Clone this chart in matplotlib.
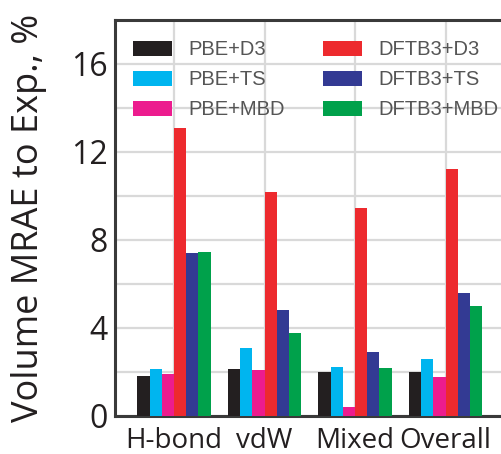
import matplotlib

matplotlib.use("Agg")
import matplotlib.pyplot as plt
import numpy as np

# Volume MRAE (%) per method and interaction class.
categories = ["H-bond", "vdW", "Mixed", "Overall"]
methods = ["PBE+D3", "PBE+TS", "PBE+MBD", "DFTB3+D3", "DFTB3+TS", "DFTB3+MBD"]
pbe_d3 = [1.81, 2.13, 1.99, 1.99]
pbe_ts = [2.13, 3.08, 2.22, 2.58]
pbe_mbd = [1.90, 2.08, 0.40, 1.76]
dftb3_d3 = [13.1, 10.19, 9.46, 11.23]
dftb3_ts = [7.41, 4.81, 2.90, 5.59]
dftb3_mbd = [7.45, 3.77, 2.17, 5.00]
yticks = [0, 4, 8, 12, 16]

series = [pbe_d3, pbe_ts, pbe_mbd, dftb3_d3, dftb3_ts, dftb3_mbd]
colors = ["#231f20", "#00b5ef", "#ec1c8e", "#ed2a2e", "#333a93", "#00a14b"]

fig = plt.figure(figsize=(5.02, 4.54), dpi=100)
ax = fig.add_axes([115 / 502, 1 - 415.7 / 454, 1 - 115 / 502, (415.7 - 20) / 454])

x = np.arange(len(categories))
width = 0.135
for i, (vals, c, name) in enumerate(zip(series, colors, methods)):
    ax.bar(x + (i - 2.5) * width, vals, width, color=c, label=name, zorder=3)

ax.set_xlim(-0.652, 3.624)
ax.set_ylim(0, 18)
ax.set_yticks(yticks)
ax.set_yticks(np.arange(0, 18, 2), minor=True)
ax.set_xticks(x)
ax.set_xticklabels(categories)
ax.tick_params(axis="both", which="both", length=0, labelcolor="#231f20")
ax.tick_params(axis="x", pad=8, labelsize=20)
ax.tick_params(axis="y", pad=5, labelsize=23)
for lab in ax.get_xticklabels() + ax.get_yticklabels():
    lab.set_fontfamily("Open Sans")

ax.grid(True, which="both", color="#d9d9d9", linewidth=1.6, zorder=0)
ax.set_axisbelow(True)

for side in ("left", "top", "bottom"):
    ax.spines[side].set_color("#3a3a3a")
    ax.spines[side].set_linewidth(2.2)
ax.spines["right"].set_visible(False)

ax.set_ylabel("Volume MRAE to Exp., %", fontsize=26, family="Open Sans",
              color="#231f20")
ax.yaxis.set_label_coords(-0.177, 0.50)

leg = ax.legend(ncol=2, loc="upper left", bbox_to_anchor=(0.0465, 0.949),
                frameon=False, borderpad=0, borderaxespad=0, handlelength=1.95,
                handleheight=0.78, handletextpad=0.8, columnspacing=1.9,
                labelspacing=0.55, prop={"family": "Liberation Sans", "size": 14.5})
for t in leg.get_texts():
    t.set_color("#555555")

fig.savefig("out.png", dpi=100)
